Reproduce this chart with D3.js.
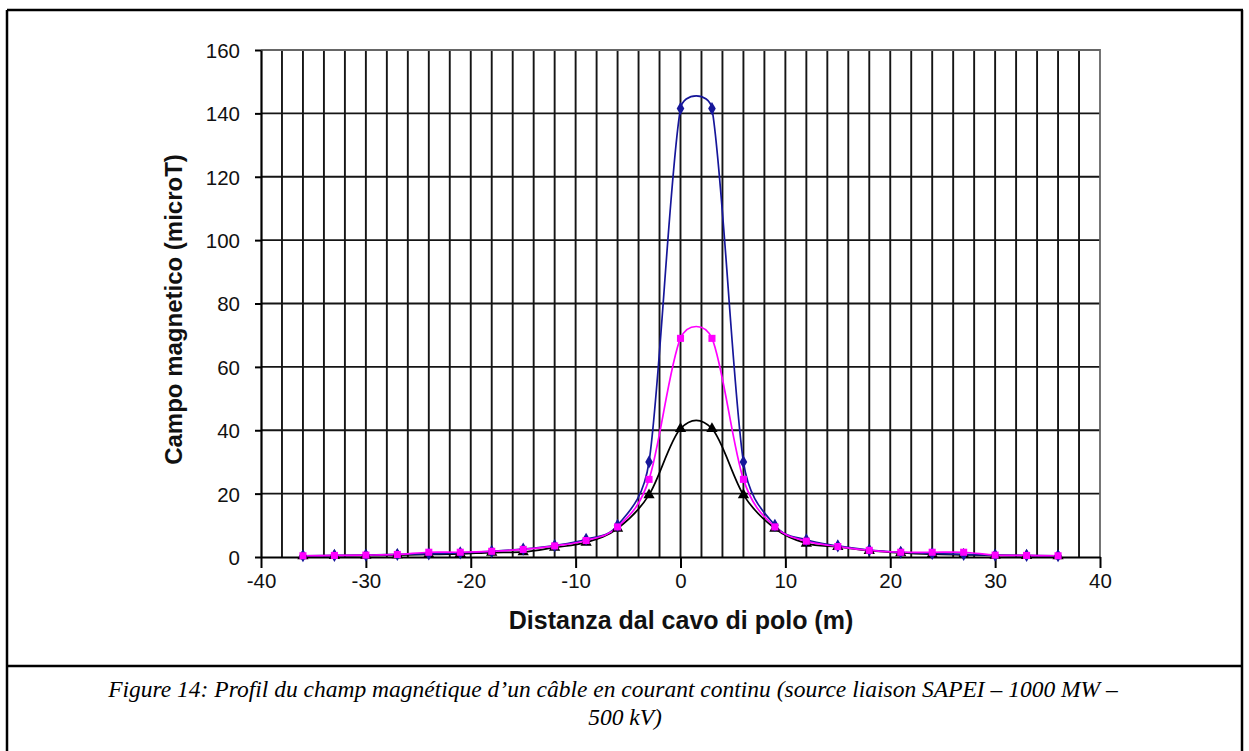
<!DOCTYPE html>
<html>
<head>
<meta charset="utf-8">
<title>Campo magnetico - cavo di polo</title>
<script src="https://cdnjs.cloudflare.com/ajax/libs/d3/7.8.5/d3.min.js"></script>
<style>
    body { margin: 0; background: #fff; }
    .tick text { font-family: "Liberation Sans", Arial, sans-serif; font-size: 20.5px; fill: #111; }
    .axis-title { font-family: "Liberation Sans", Arial, sans-serif; font-weight: bold; font-size: 24px; fill: #111; }
    .caption { font-family: "Liberation Serif", "Times New Roman", serif; font-style: italic; font-size: 23.5px; fill: #000; }
</style>
</head>
<body>
<div id="chart"></div>
<script>
    // Data (distance in m, field in microT)
    const distances = [-36, -33, -30, -27, -24, -21, -18, -15, -12, -9, -6, -3, 0, 3, 6, 9, 12, 15, 18, 21, 24, 27, 30, 33, 36];
    const blueVals    = [0.4, 0.5, 0.6, 0.8, 1.0, 1.3, 1.8, 2.5, 3.6, 5.6, 10, 30, 141.5, 141.5, 30, 10, 5.4, 3.5, 2.2, 1.5, 1.1, 0.8, 0.6, 0.5, 0.4];
    const magentaVals = [0.4, 0.5, 0.6, 0.8, 1.5, 1.5, 1.8, 2.4, 3.5, 5.2, 9.5, 24.5, 69, 69, 24.5, 9.5, 5.0, 3.3, 2.1, 1.5, 1.5, 1.5, 0.6, 0.5, 0.4];
    const blackVals   = [0.3, 0.4, 0.5, 0.6, 0.8, 1.0, 1.4, 1.6, 3.0, 4.6, 9.0, 19.6, 40.5, 40.5, 19.6, 9.0, 4.3, 3.2, 2.0, 1.3, 0.9, 0.7, 0.5, 0.4, 0.3];
    const xTicks = [-40, -30, -20, -10, 0, 10, 20, 30, 40];
    const yTicks = [0, 20, 40, 60, 80, 100, 120, 140, 160];
    const xTitle = "Distanza dal cavo di polo (m)";
    const yTitle = "Campo magnetico (microT)";
    const captionLines = [
        "Figure 14: Profil du champ magnétique d\u2019un câble en courant continu (source liaison SAPEI \u2013 1000 MW \u2013",
        "500 kV)"
    ];

    const width = 1249, height = 751;
    const svg = d3.select("#chart").append("svg")
        .attr("width", width)
        .attr("height", height);

    // page frame (table cell around the figure)
    const frame = svg.append("g").attr("stroke", "#000").attr("stroke-width", 2.5);
    frame.append("line").attr("x1", 7).attr("x2", 1243).attr("y1", 10).attr("y2", 10);
    frame.append("line").attr("x1", 7).attr("x2", 7).attr("y1", 10).attr("y2", height);
    frame.append("line").attr("x1", 1242).attr("x2", 1242).attr("y1", 10).attr("y2", height);
    frame.append("line").attr("x1", 7).attr("x2", 1243).attr("y1", 666).attr("y2", 666);

    const x = d3.scaleLinear().domain([-40, 40]).range([261, 1100]);
    const y = d3.scaleLinear().domain([0, 160]).range([557, 50]);

    // grid
    const grid = svg.append("g").attr("stroke", "#151515").attr("stroke-width", 1.9);
    grid.selectAll(".vg").data(d3.range(-38, 40, 2)).enter().append("line")
        .attr("x1", d => x(d)).attr("x2", d => x(d))
        .attr("y1", y(0)).attr("y2", y(160));
    grid.selectAll(".hg").data(d3.range(20, 160, 20)).enter().append("line")
        .attr("x1", x(-40)).attr("x2", x(40))
        .attr("y1", d => y(d)).attr("y2", d => y(d));

    // top and right borders of plot area are lighter
    svg.append("path")
        .attr("d", `M${x(-40)},${y(160)}H${x(40)}V${y(0)}`)
        .attr("fill", "none").attr("stroke", "#666").attr("stroke-width", 1.8);

    // axes
    const xAxis = svg.append("g")
        .attr("transform", `translate(0,${y(0)})`)
        .call(d3.axisBottom(x).tickValues(xTicks).tickFormat(d => String(d))
            .tickSize(11).tickSizeOuter(0).tickPadding(5));
    const yAxis = svg.append("g")
        .attr("transform", `translate(${x(-40)},0)`)
        .call(d3.axisLeft(y).tickValues(yTicks).tickFormat(d => String(d))
            .tickSize(6).tickSizeOuter(0).tickPadding(15));
    [xAxis, yAxis].forEach(a => {
        a.select(".domain").attr("stroke", "#000").attr("stroke-width", 2.2);
        a.selectAll(".tick line").attr("stroke", "#000").attr("stroke-width", 2);
    });
    yAxis.selectAll(".tick text").attr("dy", "0.36em");

    // axis titles
    svg.append("text").attr("class", "axis-title")
        .attr("x", 681).attr("y", 629)
        .style("font-size", "25px")
        .attr("text-anchor", "middle").text(xTitle);
    svg.append("text").attr("class", "axis-title")
        .attr("transform", `translate(182,${(y(0) + y(160)) / 2 + 6}) rotate(-90)`)
        .attr("text-anchor", "middle").text(yTitle);

    // Excel-like smoothed line: Catmull-Rom tangents, control arms clipped to
    // about half the segment length
    function smoothPath(vals) {
        const p = distances.map((d, i) => [x(d), y(vals[i])]);
        const n = p.length;
        const tan = p.map((pt, i) => {
            const a = p[Math.max(i - 1, 0)], b = p[Math.min(i + 1, n - 1)];
            return [(b[0] - a[0]) / 6, (b[1] - a[1]) / 6];
        });
        const clip = (t, maxLen) => {
            const l = Math.hypot(t[0], t[1]);
            return l > maxLen ? [t[0] * maxLen / l, t[1] * maxLen / l] : t;
        };
        let s = `M${p[0][0]},${p[0][1]}`;
        for (let i = 0; i < n - 1; i++) {
            const seg = Math.hypot(p[i + 1][0] - p[i][0], p[i + 1][1] - p[i][1]);
            const t0 = clip(tan[i], seg * 0.55), t1 = clip(tan[i + 1], seg * 0.55);
            s += `C${p[i][0] + t0[0]},${p[i][1] + t0[1]} ${p[i + 1][0] - t1[0]},${p[i + 1][1] - t1[1]} ${p[i + 1][0]},${p[i + 1][1]}`;
        }
        return s;
    }

    const series = [
        { vals: blackVals, color: "#000000", symbol: d3.symbolTriangle, size: 55 },
        { vals: blueVals, color: "#16169a", symbol: d3.symbolDiamond, size: 50 },
        { vals: magentaVals, color: "#ff00ff", symbol: d3.symbolSquare, size: 50 }
    ];

    const lines = svg.append("g");
    series.forEach(s => {
        lines.append("path")
            .attr("d", smoothPath(s.vals))
            .attr("fill", "none")
            .attr("stroke", s.color)
            .attr("stroke-width", 1.7);
    });
    const marks = svg.append("g");
    series.forEach(s => {
        marks.selectAll(null).data(distances).enter().append("path")
            .attr("d", d3.symbol().type(s.symbol).size(s.size))
            .attr("transform", (d, i) => `translate(${x(d)},${y(s.vals[i])})`)
            .attr("fill", s.color);
    });

    // caption
    svg.selectAll(".caption").data(captionLines).enter().append("text")
        .attr("class", "caption")
        .attr("x", (d, i) => i === 0 ? 613 : 625)
        .attr("y", (d, i) => 697 + i * 28)
        .attr("text-anchor", "middle")
        .text(d => d);
</script>
</body>
</html>
